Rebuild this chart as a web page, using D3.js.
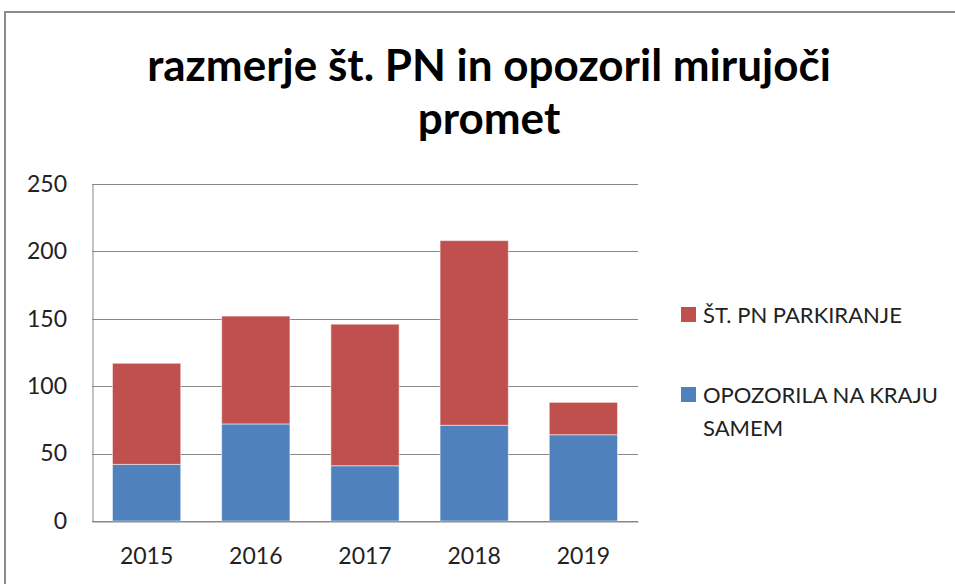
<!DOCTYPE html>
<html>
<head>
<meta charset="utf-8">
<script src="https://cdn.jsdelivr.net/npm/d3@7"></script>
<style>
  body { margin: 0; background: #fff; }
  svg { display: block; font-family: Lato, "Open Sans", sans-serif; }
</style>
</head>
<body>
<div id="chart"></div>
<script>
// --------------------------------------
//  Data
// --------------------------------------

const years = ["2015", "2016", "2017", "2018", "2019"];
const opozorila = [42, 72, 41, 71, 64];     // OPOZORILA NA KRAJU SAMEM
const pnParkiranje = [75, 80, 105, 137, 24]; // ŠT. PN PARKIRANJE
const yTicks = [0, 50, 100, 150, 200, 250];

const seriesNames = ["OPOZORILA NA KRAJU SAMEM", "ŠT. PN PARKIRANJE"];
const seriesColors = ["#4F81BD", "#C0504D"];

const titleLines = ["razmerje št. PN in opozoril mirujoči", "promet"];

// --------------------------------------
//  Canvas
// --------------------------------------

const width = 955;
const height = 584;
const margin = {top: 184, right: 317, bottom: 63, left: 92};
const innerwidth = width - margin.left - margin.right;
const innerheight = height - margin.top - margin.bottom;

const svg = d3.select("#chart")
  .append("svg")
    .attr("width", width)
    .attr("height", height);

// outer chart frame (runs off the right and bottom edge)
svg.append("rect")
    .attr("x", 5)
    .attr("y", 12)
    .attr("width", 1000)
    .attr("height", 1000)
    .attr("fill", "none")
    .attr("stroke", "#8c8c8c")
    .attr("stroke-width", 2);

const innerChart = svg
  .append("g")
    .attr("transform", `translate(${margin.left}, ${margin.top})`);

// --------------------------------------
//  Scales
// --------------------------------------

const table = years.map((y, i) => ({year: y, a: opozorila[i], b: pnParkiranje[i]}));
const stacked = d3.stack().keys(["a", "b"])(table);

const x = d3.scaleBand()
    .domain(years)
    .range([0, innerwidth])
    .paddingInner(0.375)
    .paddingOuter(0.1875);

const y = d3.scaleLinear()
    .domain([0, 250])
    .range([innerheight, 0]);

// --------------------------------------
//  Grid + axes
// --------------------------------------

innerChart.append("g")
    .selectAll("line")
    .data(yTicks)
    .join("line")
      .attr("x1", 0)
      .attr("x2", innerwidth)
      .attr("y1", d => Math.round(y(d)) + 0.5)
      .attr("y2", d => Math.round(y(d)) + 0.5)
      .attr("stroke", "#878787")
      .attr("stroke-width", 1);

const yAxis = innerChart.append("g")
    .call(d3.axisLeft(y).tickValues(yTicks).tickSize(0).tickPadding(25));
yAxis.select(".domain")
    .attr("stroke", "#878787")
    .attr("transform", "translate(0.5,0)");
yAxis.selectAll("text")
    .attr("font-size", 23)
    .attr("font-family", "Lato, sans-serif")
    .attr("fill", "#222");

// --------------------------------------
//  Bars
// --------------------------------------

stacked.forEach((layer, li) => {
  innerChart.append("g")
    .selectAll("rect")
    .data(layer)
    .join("rect")
      .attr("x", d => x(d.data.year))
      .attr("y", d => y(d[1]))
      .attr("width", x.bandwidth())
      .attr("height", d => y(d[0]) - y(d[1]))
      .attr("fill", seriesColors[li])
      .attr("stroke", "#ffffff")
      .attr("stroke-opacity", 0.5)
      .attr("stroke-width", 1);
});

const xAxis = innerChart.append("g")
    .attr("transform", `translate(0, ${innerheight})`)
    .call(d3.axisBottom(x).tickSize(0).tickPadding(27));
xAxis.select(".domain")
    .attr("stroke", "#878787")
    .attr("transform", "translate(0,0.5)");
xAxis.selectAll("text")
    .attr("font-size", 23)
    .attr("font-family", "Lato, sans-serif")
    .attr("fill", "#222");

// --------------------------------------
//  Title
// --------------------------------------

svg.append("text")
    .attr("x", 489)
    .attr("y", 81)
    .attr("text-anchor", "middle")
    .attr("font-size", 44)
    .attr("font-weight", "bold")
    .attr("fill", "#000")
    .selectAll("tspan")
    .data(titleLines)
    .join("tspan")
      .attr("x", 489)
      .attr("dy", (d, i) => i === 0 ? 0 : 53)
      .text(d => d);

// --------------------------------------
//  Legend
// --------------------------------------

const legendItems = [
  {name: seriesNames[1], color: seriesColors[1], lines: ["ŠT. PN PARKIRANJE"]},
  {name: seriesNames[0], color: seriesColors[0], lines: ["OPOZORILA NA KRAJU", "SAMEM"]}
];

const legend = svg.append("g")
    .attr("transform", "translate(681, 307)");

legendItems.forEach((item, i) => {
  const g = legend.append("g")
      .attr("transform", `translate(0, ${i * 80})`);
  g.append("rect")
      .attr("width", 15)
      .attr("height", 15)
      .attr("fill", item.color);
  g.append("text")
      .attr("x", 22)
      .attr("y", 16)
      .attr("font-size", 22)
      .attr("fill", "#222")
      .selectAll("tspan")
      .data(item.lines)
      .join("tspan")
        .attr("x", 22)
        .attr("dy", (d, j) => j === 0 ? 0 : 33)
        .text(d => d);
});
</script>
</body>
</html>
